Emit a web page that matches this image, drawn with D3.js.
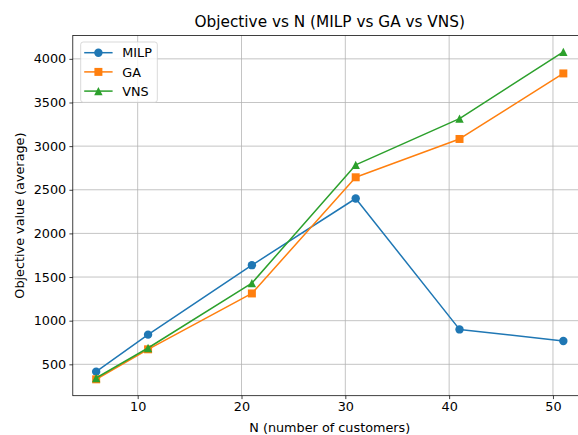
<!DOCTYPE html>
<html>
<head>
<meta charset="utf-8">
<script src="https://cdn.jsdelivr.net/npm/d3@7"></script>
<style>
  html, body { margin: 0; padding: 0; background: #fff; }
  svg { display: block; font-family: "DejaVu Sans", sans-serif; }
</style>
</head>
<body>
<svg id="chart" width="578" height="435"></svg>
<script>
const nValues = [6, 11, 21, 31, 41, 51];
const milp = [416, 840, 1636, 2400, 900, 767];
const ga = [328, 672, 1312, 2643, 3082, 3833];
const vns = [343, 687, 1430, 2785, 3315, 4080];
const xTicks = [10, 20, 30, 40, 50];
const yTicks = [500, 1000, 1500, 2000, 2500, 3000, 3500, 4000];
const seriesNames = ["MILP", "GA", "VNS"];
const titleText = "Objective vs N (MILP vs GA vs VNS)";
const xLabel = "N (number of customers)";
const yLabel = "Objective value (average)";

const colors = ["#1f77b4", "#ff7f0e", "#2ca02c"];
const markers = ["circle", "square", "triangle"];
const series = [milp, ga, vns].map((vals, i) => ({
  name: seriesNames[i], color: colors[i], marker: markers[i],
  points: nValues.map((n, j) => ({ x: n, y: vals[j] }))
}));

const L = 72.8, R = 586.7, T = 35.5, B = 395.7;
const svg = d3.select("#chart");

function padded(ext) { const r = ext[1] - ext[0]; return [ext[0] - 0.05 * r, ext[1] + 0.05 * r]; }
const x = d3.scaleLinear().domain(padded(d3.extent(nValues))).range([L, R]);
const allY = milp.concat(ga, vns);
const y = d3.scaleLinear().domain(padded(d3.extent(allY))).range([B, T]);

// grid
const grid = svg.append("g");
grid.selectAll(".gx").data(xTicks).join("line")
  .attr("x1", d => x(d)).attr("x2", d => x(d)).attr("y1", T).attr("y2", B)
  .attr("stroke", "#b0b0b0").attr("stroke-width", 0.75);
grid.selectAll(".gy").data(yTicks).join("line")
  .attr("x1", L).attr("x2", R).attr("y1", d => y(d)).attr("y2", d => y(d))
  .attr("stroke", "#b0b0b0").attr("stroke-width", 0.75);

// axes
const xAxis = d3.axisBottom(x).tickValues(xTicks).tickSize(3.4).tickPadding(3.2).tickFormat(d3.format("d"));
const yAxis = d3.axisLeft(y).tickValues(yTicks).tickSize(3.4).tickPadding(3.2).tickFormat(d3.format("d"));
const gx = svg.append("g").attr("transform", `translate(0,${B})`).call(xAxis);
const gy = svg.append("g").attr("transform", `translate(${L},0)`).call(yAxis);
[gx, gy].forEach(g => {
  g.select(".domain").remove();
  g.selectAll("line").attr("stroke", "#000").attr("stroke-width", 0.75);
  g.selectAll("text").attr("font-family", "DejaVu Sans").attr("font-size", 12.8).attr("fill", "#000");
});

// lines & markers
const line = d3.line().x(d => x(d.x)).y(d => y(d.y));
const sz = 8.4;
function drawMarker(g, type, color, cx, cy) {
  if (type === "circle") {
    g.append("circle").attr("cx", cx).attr("cy", cy).attr("r", sz / 2).attr("fill", color);
  } else if (type === "square") {
    const s = sz * 0.95;
    g.append("rect").attr("x", cx - s / 2).attr("y", cy - s / 2).attr("width", s).attr("height", s).attr("fill", color);
  } else {
    const h = sz / 2;
    g.append("path").attr("d", `M${cx},${cy - h}L${cx - h},${cy + h}L${cx + h},${cy + h}Z`).attr("fill", color);
  }
}
series.forEach(s => {
  const g = svg.append("g");
  g.append("path").datum(s.points).attr("d", line).attr("fill", "none")
    .attr("stroke", s.color).attr("stroke-width", 1.5).attr("stroke-linejoin", "round");
  s.points.forEach(p => drawMarker(g, s.marker, s.color, x(p.x), y(p.y)));
});

// spines
svg.append("rect").attr("x", L).attr("y", T).attr("width", R - L).attr("height", B - T)
  .attr("fill", "none").attr("stroke", "#000").attr("stroke-width", 0.75);

// title and labels
svg.append("text").attr("x", (L + R) / 2).attr("y", 27).attr("text-anchor", "middle")
  .attr("font-size", 15.3).attr("fill", "#000").text(titleText);
svg.append("text").attr("x", (L + R) / 2).attr("y", 432.2).attr("text-anchor", "middle")
  .attr("font-size", 12.8).attr("fill", "#000").text(xLabel);
svg.append("text").attr("transform", `translate(23.5,${(T + B) / 2}) rotate(-90)`).attr("text-anchor", "middle")
  .attr("font-size", 12.8).attr("fill", "#000").text(yLabel);

// legend
const lg = svg.append("g");
lg.append("rect").attr("x", 80.7).attr("y", 42).attr("width", 76.6).attr("height", 60.3)
  .attr("rx", 2.5).attr("fill", "#fff").attr("fill-opacity", 0.8)
  .attr("stroke", "#cccccc").attr("stroke-width", 0.75);
series.forEach((s, i) => {
  const ly = 52.7 + i * 19.2;
  lg.append("line").attr("x1", 84.2).attr("x2", 112.6).attr("y1", ly).attr("y2", ly)
    .attr("stroke", s.color).attr("stroke-width", 1.5);
  drawMarker(lg, s.marker, s.color, 98.4, ly);
  lg.append("text").attr("x", 122.3).attr("y", ly).attr("dy", "0.36em")
    .attr("font-size", 12.8).attr("fill", "#000").text(s.name);
});
</script>
</body>
</html>
